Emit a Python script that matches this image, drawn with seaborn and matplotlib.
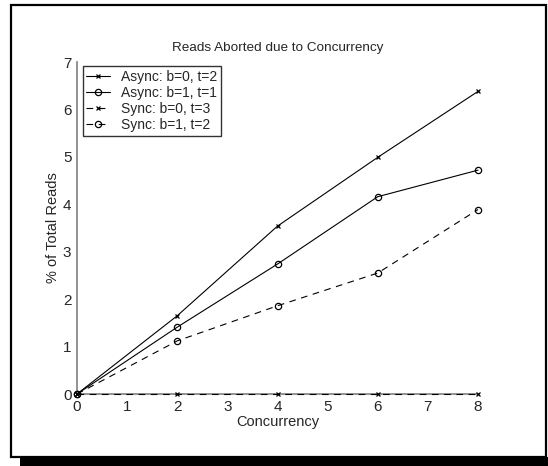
import matplotlib
matplotlib.use("Agg")
import matplotlib.pyplot as plt
import seaborn as sns
import pandas as pd
from matplotlib.patches import Rectangle

concurrency = [0, 2, 4, 6, 8]
async_b0_t2 = [0, 1.65, 3.54, 4.99, 6.38]
async_b1_t1 = [0, 1.41, 2.74, 4.16, 4.72]
sync_b0_t3 = [0, 0, 0, 0, 0]
sync_b1_t2 = [0, 1.12, 1.86, 2.55, 3.89]
series_names = ["Async: b=0, t=2", "Async: b=1, t=1", "Sync: b=0, t=3", "Sync: b=1, t=2"]
x_ticks = [0, 1, 2, 3, 4, 5, 6, 7, 8]
y_ticks = [0, 1, 2, 3, 4, 5, 6, 7]

sns.set_style("white")
plt.rcParams['font.family'] = ['Liberation Sans', 'DejaVu Sans']

fig = plt.figure(figsize=(5.48, 4.66), dpi=100)
ax = fig.add_axes([77/548, 1-394/466, (478-77)/548, (394-62)/466])

styles = [("-", "x", 3.5), ("-", "o", 4.5), ("--", "x", 3.5), ("--", "o", 4.5)]
values = [async_b0_t2, async_b1_t1, sync_b0_t3, sync_b1_t2]
for name, vals, (ls, mk, ms) in zip(series_names, values, styles):
    df = pd.DataFrame({"Concurrency": concurrency, "pct": vals})
    kw = {}
    if ls == "--":
        kw["dashes"] = (6, 5)
    sns.lineplot(data=df, x="Concurrency", y="pct", ax=ax, color="black",
                 marker=mk, markersize=ms, markerfacecolor="none",
                 markeredgecolor="black", markeredgewidth=0.9, linewidth=0.8,
                 label=name, clip_on=False, zorder=3, **kw)

ax.set_xlim(0, 8)
ax.set_ylim(0, 7)
ax.set_xticks(x_ticks)
ax.set_yticks(y_ticks)
ax.tick_params(direction="in", length=4, width=0.8, color="#808080",
               labelsize=11, pad=4)
for s in ["top", "right"]:
    ax.spines[s].set_visible(False)
for s in ["left", "bottom"]:
    ax.spines[s].set_color("#808080")
    ax.spines[s].set_linewidth(1.2)
ax.set_xlabel("Concurrency", fontsize=10.5, labelpad=1)
ax.set_ylabel("% of Total Reads", fontsize=10.5, labelpad=2)
ax.set_title("Reads Aborted due to Concurrency", fontsize=9.7, pad=8)

leg = ax.legend(loc="upper left", bbox_to_anchor=(0.008, 0.995), fontsize=10,
                frameon=True, fancybox=False, edgecolor="black",
                handlelength=1.7, handletextpad=0.8, borderpad=0.25,
                labelspacing=0.15, borderaxespad=0.2)
leg.get_frame().set_linewidth(1.0)

# outer frame with shadow
fig.patches.append(Rectangle((11/548, 1-457/466), (546-11)/548, (457-5)/466,
                             transform=fig.transFigure, fill=False,
                             edgecolor="black", linewidth=1.6))
fig.patches.append(Rectangle((20/548, 0), (548-20)/548, 9/466,
                             transform=fig.transFigure, facecolor="black",
                             edgecolor="none"))

fig.savefig("out.png", dpi=100)
